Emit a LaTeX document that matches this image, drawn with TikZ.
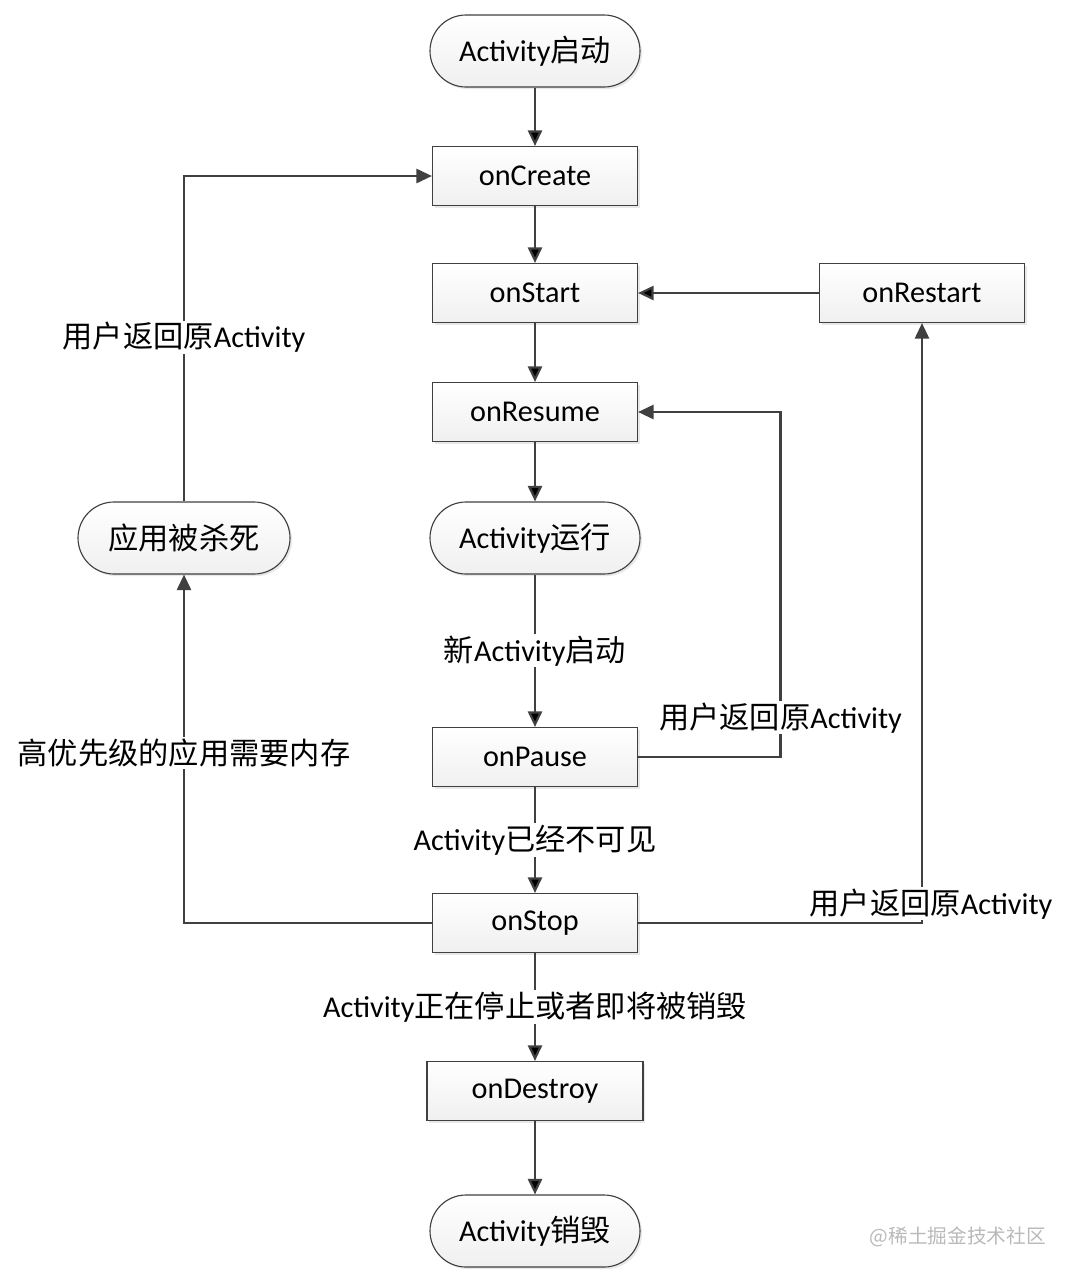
\documentclass[tikz,border=0pt]{standalone}
\usepackage{fontspec}
\setmainfont{Carlito}
\newfontfamily\cjk{Noto Sans CJK SC}
\newcommand{\zh}[1]{{\cjk #1}}
\usetikzlibrary{positioning,arrows.meta,shadows}
\definecolor{lineclr}{HTML}{404040}

\begin{document}
\begin{tikzpicture}[node distance=3cm, on grid,
    font=\fontsize{21.5}{25}\selectfont,
    >={Triangle[length=11pt,width=10pt]},
    func/.style={rectangle, draw=lineclr, line width=0.8pt,
        minimum width=5.125cm, minimum height=1.475cm,
        top color=white, bottom color=gray!12,
        drop shadow={opacity=0.18, shadow xshift=1.5pt, shadow yshift=-1.5pt}},
    term/.style={func, rounded corners=0.9cm, minimum width=5.25cm, minimum height=1.8cm},
    lbl/.style={fill=white, inner sep=1pt},
    flow/.style={->, draw=lineclr, line width=1.6pt}]
    \useasboundingbox (0,0) rectangle (26.75,-32);

    \node[term] (start) at (13.375,-1.275) {Activity\zh{启动}};
    \node[func] (onCreate) [below=3.125cm of start] {onCreate};
    \node[func] (onStart) [below=2.925cm of onCreate] {onStart};
    \node[func] (onRestart) [right=9.675cm of onStart] {onRestart};
    \node[func] (onResume) [below=2.975cm of onStart] {onResume};
    \node[term] (running) [below=3.15cm of onResume] {Activity\zh{运行}};
    \node[term, minimum width=5.3cm] (killed) [left=8.775cm of running] {\zh{应用被杀死}};
    \node[func] (onPause) [below=5.475cm of running] {onPause};
    \node[func] (onStop) [below=4.15cm of onPause] {onStop};
    \node[func, minimum width=5.4cm] (onDestroy) [below=4.2cm of onStop] {onDestroy};
    \node[term] (finish) [below=3.5cm of onDestroy] {Activity\zh{销毁}};
    \node[text=gray!55, font=\cjk\fontsize{14}{16}\selectfont] (mark) at (23.95,-30.925) {@稀土掘金技术社区};

    \path (onPause.east) ++(3.5625,0) coordinate (pauseR);

    \path[flow]
    (start) edge (onCreate)
    (onCreate) edge (onStart)
    (onStart) edge (onResume)
    (onResume) edge (running)
    (running) edge node[lbl] {\zh{新}Activity\zh{启动}} (onPause)
    (onPause) edge node[lbl] {Activity\zh{已经不可见}} (onStop)
    (onStop) edge node[lbl] {Activity\zh{正在停止或者即将被销毁}} (onDestroy)
    (onDestroy) edge (finish)
    (onRestart) edge (onStart);

    \draw[flow] (onPause.east) -- (pauseR) |- node[lbl, pos=0.057] {\zh{用户返回原}Activity} (onResume.east);
    \draw[flow] (onStop.east) -| node[lbl, pos=0.5, anchor=south, xshift=0.225cm, yshift=1pt] {\zh{用户返回原}Activity} (onRestart.south);
    \draw[flow] (onStop.west) -| node[lbl, pos=0.744] {\zh{高优先级的应用需要内存}} (killed.south);
    \draw[flow] (killed.north) |- node[lbl, pos=0.252] {\zh{用户返回原}Activity} (onCreate.west);
\end{tikzpicture}
\end{document}
